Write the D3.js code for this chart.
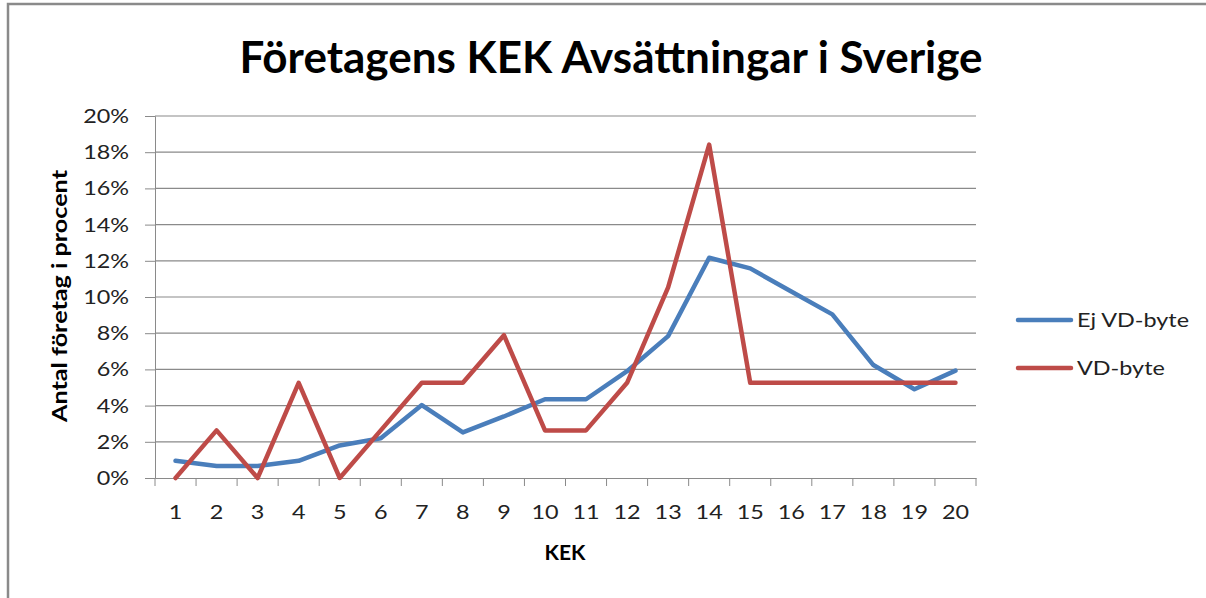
<!DOCTYPE html>
<html>
<head>
<meta charset="utf-8">
<script src="https://cdn.jsdelivr.net/npm/d3@7"></script>
<style>
  body { margin: 0; background: #fff; }
  svg { display: block; }
  text { font-family: Lato, "Open Sans", sans-serif; }
</style>
</head>
<body>
<div class="svg"></div>
<script>
// data
var kek = d3.range(1, 21);
var ejVdByte = [0.95, 0.66, 0.66, 0.95, 1.8, 2.2, 4.03, 2.52, 3.4, 4.35, 4.35, 5.9, 7.84, 12.17, 11.58, 10.3, 9.04, 6.24, 4.9, 5.93];
var vdByte = [0, 2.63, 0, 5.26, 0, 2.63, 5.26, 5.26, 7.89, 2.63, 2.63, 5.26, 10.53, 18.42, 5.26, 5.26, 5.26, 5.26, 5.26, 5.26];
var yTicks = [0, 2, 4, 6, 8, 10, 12, 14, 16, 18, 20];
var seriesNames = ['Ej VD-byte', 'VD-byte'];
var seriesColors = ['#4a7ebb', '#be4b48'];

var w = 1206, h = 598;
var m = {left: 155, right: 976, top: 116, bottom: 478};
var stretch = 1.17; // source text looks a bit wide

var svg = d3.select('div.svg').append('svg')
  .attr('width', w)
  .attr('height', h);

// outer frame
svg.append('path')
  .attr('d', 'M8,' + h + 'V4H' + w)
  .attr('fill', 'none')
  .attr('stroke', '#8a8a8a')
  .attr('stroke-width', 2.5);

var x = d3.scaleBand().domain(kek).range([m.left, m.right]);
var y = d3.scaleLinear().domain([0, 20]).range([m.bottom, m.top]);

// y axis
var yAxis = svg.append('g')
  .attr('transform', 'translate(' + m.left + ',0)')
  .call(d3.axisLeft(y).tickValues(yTicks).tickSize(10)
    .tickFormat(function (d) { return d + '%'; }));
yAxis.select('.domain').attr('stroke', '#8a8a8a');
yAxis.selectAll('.tick line').attr('stroke', '#8a8a8a');
yAxis.selectAll('.tick text')
  .attr('x', 0)
  .attr('transform', 'translate(-26,0) scale(' + stretch + ',1)')
  .attr('font-size', 20).attr('fill', '#222');

// gridlines
svg.append('g').selectAll('line')
  .data(yTicks.slice(1))
  .enter().append('line')
  .attr('x1', m.left).attr('x2', m.right)
  .attr('y1', function (d) { return y(d); })
  .attr('y2', function (d) { return y(d); })
  .attr('stroke', '#8a8a8a')
  .attr('stroke-width', 1.2);

// x axis
var xAxis = svg.append('g')
  .attr('transform', 'translate(0,' + m.bottom + ')')
  .call(d3.axisBottom(x).tickSize(0));
xAxis.select('.domain').attr('stroke', '#8a8a8a').attr('stroke-width', 1.2);
xAxis.selectAll('.tick text')
  .attr('y', 0).attr('dy', 0)
  .attr('transform', 'translate(0,41) scale(' + stretch + ',1)')
  .attr('font-size', 20).attr('fill', '#222');
xAxis.selectAll('line.sep')
  .data(kek.concat([21]))
  .enter().append('line')
  .attr('class', 'sep')
  .attr('x1', function (d, i) { return m.left + i * x.bandwidth(); })
  .attr('x2', function (d, i) { return m.left + i * x.bandwidth(); })
  .attr('y1', 0).attr('y2', 8)
  .attr('stroke', '#8a8a8a');

// lines
var line = d3.line()
  .x(function (d, i) { return x(kek[i]) + x.bandwidth() / 2; })
  .y(function (d) { return y(d); });

[ejVdByte, vdByte].forEach(function (s, i) {
  svg.append('path')
    .datum(s)
    .attr('d', line)
    .attr('fill', 'none')
    .attr('stroke', seriesColors[i])
    .attr('stroke-width', 4.5)
    .attr('stroke-linejoin', 'round')
    .attr('stroke-linecap', 'round');
});

// titles
svg.append('text')
  .attr('x', 611).attr('y', 73)
  .attr('text-anchor', 'middle')
  .attr('font-size', 44).attr('font-weight', 'bold')
  .text('Företagens KEK Avsättningar i Sverige');

svg.append('text')
  .attr('transform', 'translate(67,296) rotate(-90)')
  .attr('text-anchor', 'middle')
  .attr('font-size', 20).attr('font-weight', 'bold')
  .attr('textLength', 252).attr('lengthAdjust', 'spacingAndGlyphs')
  .text('Antal företag i procent');

svg.append('text')
  .attr('x', 565).attr('y', 560)
  .attr('text-anchor', 'middle')
  .attr('font-size', 21).attr('font-weight', 'bold')
  .text('KEK');

// legend
var legend = svg.append('g').selectAll('g')
  .data(seriesNames)
  .enter().append('g')
  .attr('transform', function (d, i) { return 'translate(1018,' + (320 + i * 48) + ')'; });
legend.append('line')
  .attr('x1', 0).attr('x2', 53)
  .attr('stroke', function (d, i) { return seriesColors[i]; })
  .attr('stroke-width', 4.5)
  .attr('stroke-linecap', 'round');
legend.append('text')
  .attr('transform', 'translate(59,0) scale(' + stretch + ',1)')
  .attr('dy', '0.35em')
  .attr('font-size', 20).attr('fill', '#222')
  .text(function (d) { return d; });
</script>
</body>
</html>
